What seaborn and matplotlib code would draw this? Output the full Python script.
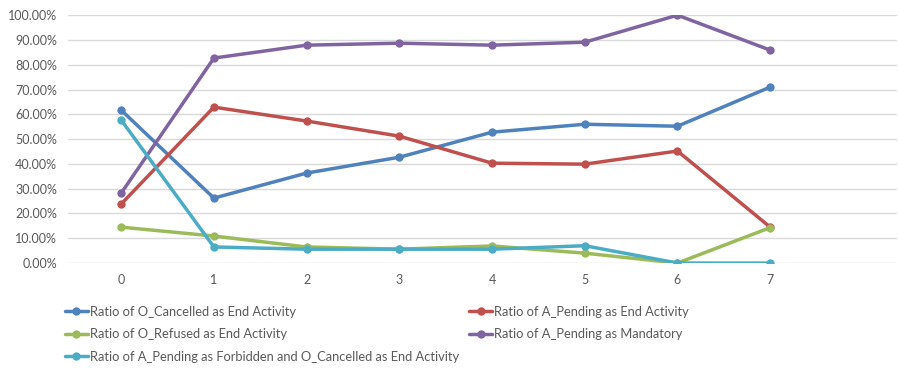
import matplotlib
matplotlib.use("Agg")
import matplotlib.pyplot as plt
from matplotlib.ticker import FuncFormatter
import pandas as pd
import seaborn as sns

# data (in %)
steps = [0, 1, 2, 3, 4, 5, 6, 7]
o_cancelled_end = [61.7, 26.2, 36.3, 42.7, 52.8, 56.0, 55.2, 71.0]
a_pending_end = [23.8, 62.9, 57.3, 51.2, 40.3, 39.9, 45.2, 14.5]
o_refused_end = [14.5, 10.9, 6.5, 5.6, 6.9, 4.0, 0.0, 14.3]
a_pending_mandatory = [28.2, 82.7, 87.9, 88.7, 87.9, 89.1, 100.0, 85.9]
a_pending_forbidden = [57.7, 6.5, 5.6, 5.6, 5.6, 7.0, 0.0, 0.0]

series_names = [
    "Ratio of O_Cancelled as End Activity",
    "Ratio of A_Pending as End Activity",
    "Ratio of O_Refused as End Activity",
    "Ratio of A_Pending as Mandatory",
    "Ratio of A_Pending as Forbidden and O_Cancelled as End Activity",
]
series_values = [o_cancelled_end, a_pending_end, o_refused_end,
                 a_pending_mandatory, a_pending_forbidden]
colors = ["#4F81BD", "#C0504D", "#9BBB59", "#8064A2", "#4BACC6"]

# settings
sns.set_style("white")
plt.rcParams['font.family'] = ['Lato', 'DejaVu Sans']

fig = plt.figure(figsize=(8.99, 3.70), dpi=100)
ax = fig.add_axes([0.076, 0.289, 0.922, 0.670])

handles = {}
for name, vals, col in zip(series_names, series_values, colors):
    df = pd.DataFrame({"step": steps, "ratio": vals})
    sns.lineplot(data=df, x="step", y="ratio", ax=ax, color=col, marker="o",
                 markersize=6, markeredgewidth=0, linewidth=2.5, label=name,
                 legend=False)
    handles[name] = ax.lines[-1]

ax.set_xlim(-0.57, 8.37)
ax.set_ylim(0, 100)
ax.set_xticks(steps)
ax.set_yticks(range(0, 101, 10))
ax.yaxis.set_major_formatter(FuncFormatter(lambda v, p: f"{v:.2f}%"))
ax.grid(axis="y", color="#D9D9D9", linewidth=1)
ax.set_axisbelow(True)
for s in ax.spines.values():
    s.set_visible(False)
ax.tick_params(axis="both", length=0, labelsize=9, labelcolor="#595959", pad=8)
ax.set_xlabel("")
ax.set_ylabel("")

# legend in two columns, same order as the reference
order = [series_names[0], series_names[2], series_names[4],
         series_names[1], series_names[3]]
fig.legend([handles[n] for n in order], order, ncol=2, loc="upper left",
           bbox_to_anchor=(0.066, 0.187), frameon=False, fontsize=9.3,
           labelcolor="#595959", numpoints=1, handlelength=1.8,
           handletextpad=0.15, columnspacing=0.8, labelspacing=0.8,
           borderaxespad=0)

fig.savefig("out.png", dpi=100)
plt.close()
